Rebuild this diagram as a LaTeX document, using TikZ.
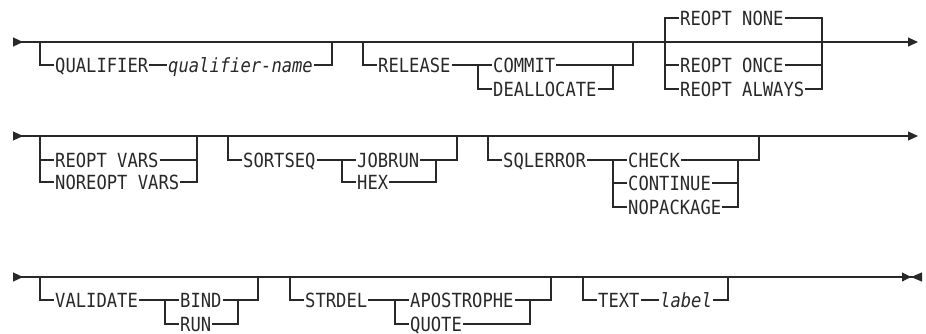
\documentclass[tikz,border=0pt]{standalone}
\usepackage{fontspec}
\usepackage{xcolor}
\usepackage{tikz}
\usetikzlibrary{arrows.meta}
\newfontfamily\railfont{DejaVu Sans Mono}[ItalicFont={DejaVu Sans Mono Oblique}, FakeStretch=0.88]
\definecolor{railgray}{RGB}{40,40,40}

\begin{document}
\begin{tikzpicture}[
    x=1pt, y=-1pt,
    kw/.style={anchor=west, inner xsep=1pt, inner ysep=0pt, text height=14.2pt,
               text depth=0pt, text=railgray,
               font=\railfont\fontsize{19.5}{22}\selectfont},
    var/.style={kw, font=\railfont\fontsize{19.5}{22}\selectfont\itshape},
    rail/.style={line width=1.1pt, draw=railgray},
    mainrow/.style={rail, {Triangle[reversed, length=10pt, width=9pt]}-{Triangle[length=10pt, width=9pt]}},
    mainlast/.style={rail, {Triangle[reversed, length=10pt, width=9pt]}-{Triangle[length=9pt, width=9pt] Triangle[reversed, length=11pt, width=9pt]}}
]
\useasboundingbox (0,0) rectangle (926,333);

\coordinate (in1)  at (13,42);
\coordinate (out1) at (918,42);
\draw[mainrow] (in1) -- (out1);

\coordinate (qa) at (40,42);
\coordinate (qb) at (332,42);
\node[kw]  (qual)  at (54,65)  {QUALIFIER};
\node[var] (qname) at (167,65) {qualifier-name};
\draw[rail] (qa) |- (qual);
\draw[rail] (qual) -- (qname);
\draw[rail] (qname) -| (qb);

\coordinate (ra) at (363,42);
\coordinate (rb) at (633,42);
\coordinate (rf) at (478,65);
\coordinate (rj) at (613,65);
\node[kw] (release) at (377,65) {RELEASE};
\node[kw] (commit)  at (492,65) {COMMIT};
\node[kw] (dealloc) at (492,89) {DEALLOCATE};
\draw[rail] (ra) |- (release);
\draw[rail] (release) -- (commit);
\draw[rail] (rf) |- (dealloc);
\draw[rail] (commit) -| (rb);
\draw[rail] (dealloc) -| (rj);

\coordinate (oa) at (665,42);
\coordinate (ob) at (822,42);
\node[kw] (none)   at (679,18) {REOPT NONE};
\node[kw] (once)   at (679,65) {REOPT ONCE};
\node[kw] (always) at (679,89) {REOPT ALWAYS};
\draw[rail] (oa) |- (none);
\draw[rail] (oa) |- (once);
\draw[rail] (oa) |- (always);
\draw[rail] (none) -| (ob);
\draw[rail] (once) -| (ob);
\draw[rail] (always) -| (ob);

\coordinate (in2)  at (13,136);
\coordinate (out2) at (918,136);
\draw[mainrow] (in2) -- (out2);

\coordinate (va) at (40,136);
\coordinate (vb) at (197,136);
\node[kw] (vars)   at (54,160) {REOPT VARS};
\node[kw] (novars) at (54,182) {NOREOPT VARS};
\draw[rail] (va) |- (vars);
\draw[rail] (va) |- (novars);
\draw[rail] (vars) -| (vb);
\draw[rail] (novars) -| (vb);

\coordinate (sa) at (228,136);
\coordinate (sb) at (457,136);
\coordinate (sf) at (342,160);
\coordinate (sj) at (436,160);
\node[kw] (sortseq) at (242,160) {SORTSEQ};
\node[kw] (jobrun)  at (356,160) {JOBRUN};
\node[kw] (hex)     at (356,182) {HEX};
\draw[rail] (sa) |- (sortseq);
\draw[rail] (sortseq) -- (jobrun);
\draw[rail] (sf) |- (hex);
\draw[rail] (jobrun) -| (sb);
\draw[rail] (hex) -| (sj);

\coordinate (ea) at (488,136);
\coordinate (eb) at (759,136);
\coordinate (ef) at (613,160);
\coordinate (ej) at (738,160);
\node[kw] (sqlerror) at (502,160) {SQLERROR};
\node[kw] (check)    at (627,160) {CHECK};
\node[kw] (continue) at (627,183) {CONTINUE};
\node[kw] (nopack)   at (627,207) {NOPACKAGE};
\draw[rail] (ea) |- (sqlerror);
\draw[rail] (sqlerror) -- (check);
\draw[rail] (ef) |- (continue);
\draw[rail] (ef) |- (nopack);
\draw[rail] (check) -| (eb);
\draw[rail] (continue) -| (ej);
\draw[rail] (nopack) -| (ej);

\coordinate (in3)  at (13,277);
\coordinate (out3) at (922,277);
\draw[mainlast] (in3) -- (out3);

\coordinate (la) at (40,277);
\coordinate (lb) at (258,277);
\coordinate (lf) at (165,300);
\coordinate (lj) at (238,300);
\node[kw] (validate) at (54,300)  {VALIDATE};
\node[kw] (bind)     at (179,300) {BIND};
\node[kw] (run)      at (179,324) {RUN};
\draw[rail] (la) |- (validate);
\draw[rail] (validate) -- (bind);
\draw[rail] (lf) |- (run);
\draw[rail] (bind) -| (lb);
\draw[rail] (run) -| (lj);

\coordinate (da) at (290,277);
\coordinate (db) at (551,277);
\coordinate (df) at (395,300);
\coordinate (dj) at (530,300);
\node[kw] (strdel) at (304,300) {STRDEL};
\node[kw] (apos)   at (409,300) {APOSTROPHE};
\node[kw] (quote)  at (409,324) {QUOTE};
\draw[rail] (da) |- (strdel);
\draw[rail] (strdel) -- (apos);
\draw[rail] (df) |- (quote);
\draw[rail] (apos) -| (db);
\draw[rail] (quote) -| (dj);

\coordinate (ta) at (583,277);
\coordinate (tb) at (728,277);
\node[kw]  (textkw) at (597,300) {TEXT};
\node[var] (lbl)    at (659,300) {label};
\draw[rail] (ta) |- (textkw);
\draw[rail] (textkw) -- (lbl);
\draw[rail] (lbl) -| (tb);
\end{tikzpicture}
\end{document}
